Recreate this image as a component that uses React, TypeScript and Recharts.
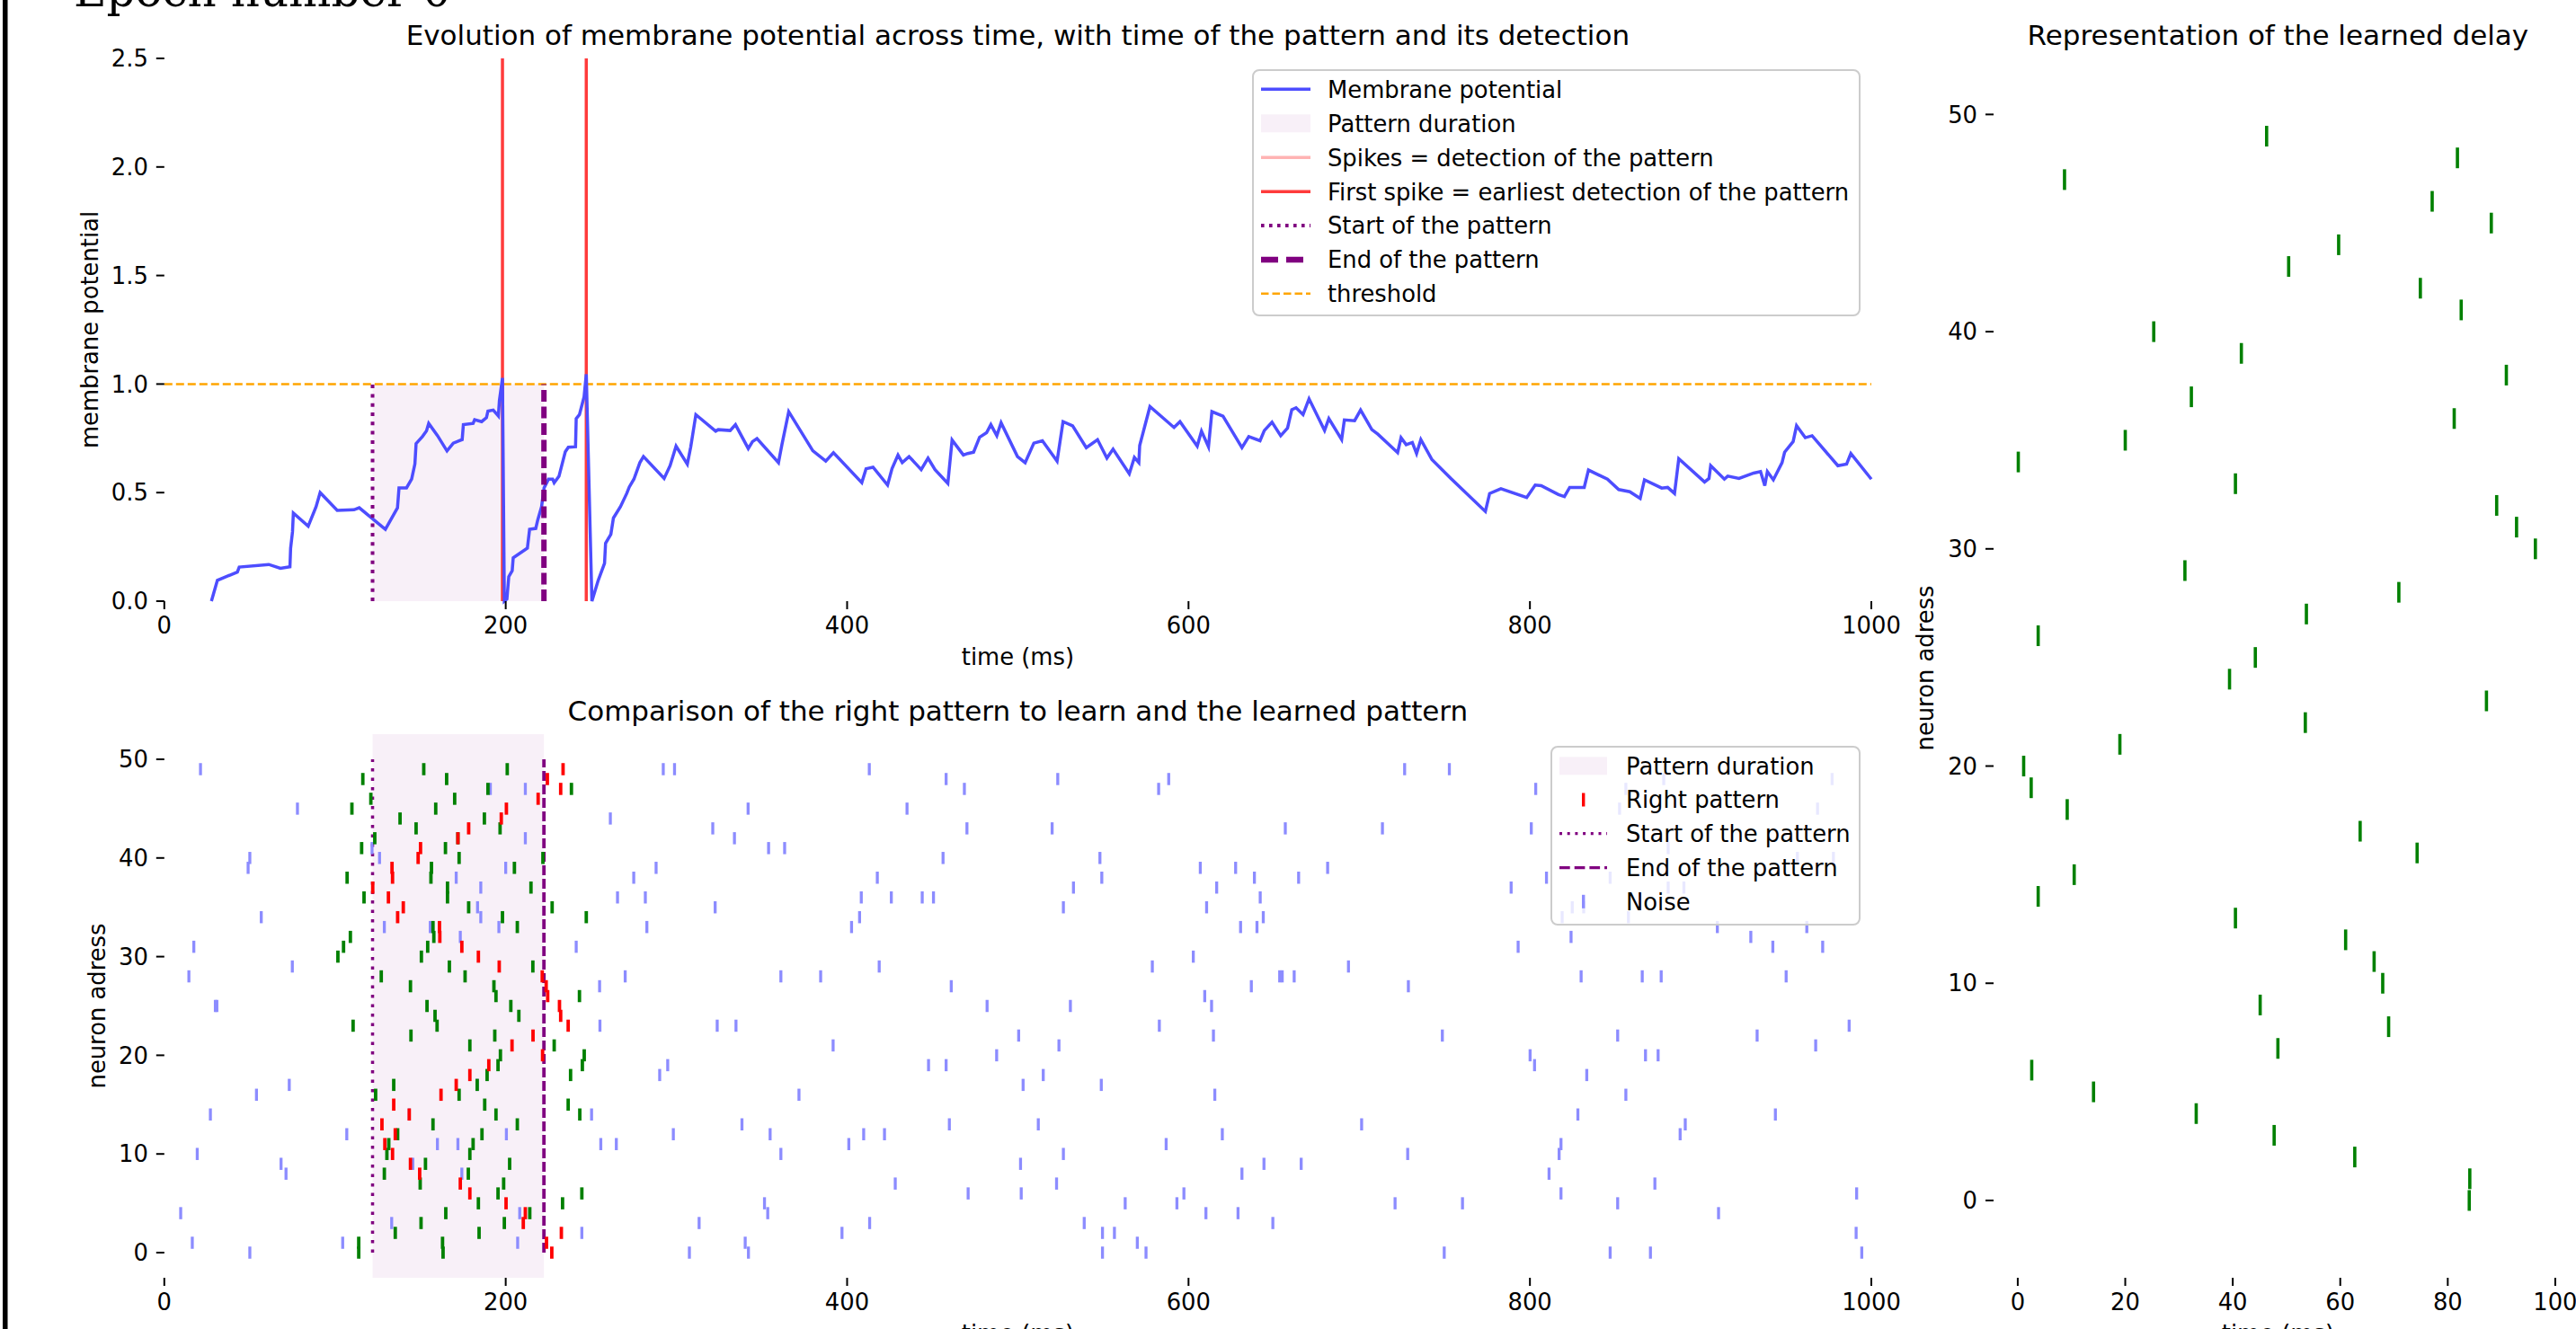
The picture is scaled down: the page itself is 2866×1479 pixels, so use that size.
import React from "react";
import {
  ComposedChart,
  Line,
  XAxis,
  YAxis,
  ReferenceLine,
  ReferenceArea,
  ScatterChart,
  Scatter,
} from "recharts";

const FONT = "'DejaVu Sans', sans-serif";
const PURPLE = "#800080";
const NOISE = "#8c8cff";

// membrane potential (top panel)
const membraneTime = [
  27.6, 31.1, 42.8, 43.9, 61.2, 68.0, 73.6, 74.0, 75.1, 75.6, 84.3, 88.9, 91.3, 101.3, 111.1, 114.2,
  129.5, 136.6, 137.5, 141.9, 144.9, 146.8, 147.5, 151.2, 153.6, 154.9, 160.0, 165.6, 169.3, 174.5,
  175.2, 180.9, 181.8, 185.9, 188.7, 189.6, 192.7, 195.7, 196.3, 198.1, 199.2, 200.7, 201.8, 203.8,
  204.4, 212.7, 214.0, 217.6, 218.8, 221.0, 222.5, 225.1, 227.5, 228.4, 231.2, 234.9, 236.7, 240.9,
  241.3, 243.2, 245.9, 247.2, 250.5, 254.2, 257.9, 258.5, 261.6, 263.1, 267.2, 270.9, 272.4, 275.1,
  278.6, 280.7, 292.8, 296.3, 299.8, 306.4, 308.4, 311.4, 323.0, 324.5, 331.5, 334.6, 342.1, 344.6,
  347.2, 359.8, 361.8, 365.8, 379.9, 387.5, 392.0, 408.6, 411.1, 415.2, 423.7, 426.3, 429.8, 432.3,
  436.3, 443.4, 447.4, 451.5, 459.0, 461.5, 468.1, 470.6, 474.1, 477.6, 481.7, 484.2, 487.7, 490.2,
  499.8, 504.3, 509.4, 514.4, 523.0, 526.5, 532.1, 540.1, 546.7, 552.2, 555.8, 565.3, 568.3, 570.9,
  571.4, 577.4, 591.5, 595.0, 605.1, 607.6, 611.7, 613.7, 620.2, 631.3, 635.3, 641.9, 644.4, 648.9,
  654.0, 658.0, 660.5, 663.0, 667.1, 670.6, 679.7, 682.2, 689.7, 691.3, 697.3, 700.8, 707.4, 710.9,
  722.5, 724.5, 727.5, 731.1, 733.6, 736.1, 742.6, 753.7, 773.9, 776.4, 783.0, 798.1, 803.1, 806.6,
  816.7, 820.2, 823.3, 831.8, 834.3, 845.4, 852.0, 858.5, 864.6, 867.1, 877.2, 880.7, 884.7, 887.2,
  902.3, 904.9, 905.9, 913.9, 915.9, 922.5, 931.1, 935.1, 937.6, 939.1, 942.6, 947.7, 949.2, 954.2,
  956.2, 961.3, 965.3, 980.4, 985.5, 988.0, 1000,
];
const membraneValue = [
  0, 0.096, 0.134, 0.157, 0.169, 0.151, 0.158, 0.244, 0.319, 0.406, 0.345, 0.435, 0.5, 0.418, 0.421, 0.43,
  0.331, 0.43, 0.522, 0.522, 0.562, 0.632, 0.726, 0.758, 0.784, 0.819, 0.763, 0.692, 0.728, 0.744,
  0.813, 0.819, 0.836, 0.827, 0.845, 0.875, 0.88, 0.853, 0.923, 1.028, 0, 0.01, 0.113, 0.14,
  0.2, 0.244, 0.331, 0.335, 0.375, 0.435, 0.522, 0.562, 0.562, 0.545, 0.575, 0.688, 0.709, 0.711,
  0.841, 0.859, 0.941, 1.045, 0, 0.096, 0.174, 0.267, 0.308, 0.383, 0.435, 0.496, 0.526, 0.562,
  0.638, 0.666, 0.565, 0.624, 0.714, 0.631, 0.711, 0.859, 0.783, 0.79, 0.786, 0.813, 0.703, 0.735,
  0.749, 0.638, 0.721, 0.873, 0.693, 0.645, 0.684, 0.546, 0.61, 0.617, 0.535, 0.61, 0.673, 0.638,
  0.666, 0.606, 0.659, 0.606, 0.542, 0.742, 0.673, 0.68, 0.686, 0.755, 0.776, 0.813, 0.762, 0.822,
  0.666, 0.638, 0.728, 0.739, 0.645, 0.827, 0.808, 0.707, 0.744, 0.659, 0.7, 0.587, 0.662, 0.638,
  0.717, 0.896, 0.8, 0.827, 0.714, 0.783, 0.711, 0.873, 0.852, 0.707, 0.758, 0.739, 0.786, 0.824,
  0.762, 0.797, 0.882, 0.891, 0.859, 0.932, 0.786, 0.841, 0.744, 0.835, 0.831, 0.88, 0.79, 0.769,
  0.684, 0.753, 0.721, 0.731, 0.68, 0.744, 0.652, 0.565, 0.413, 0.496, 0.518, 0.477, 0.535, 0.532,
  0.491, 0.482, 0.524, 0.524, 0.604, 0.562, 0.514, 0.504, 0.473, 0.559, 0.521, 0.524, 0.496, 0.656,
  0.549, 0.565, 0.624, 0.562, 0.576, 0.565, 0.59, 0.597, 0.532, 0.597, 0.559, 0.638, 0.686, 0.735,
  0.808, 0.753, 0.762, 0.624, 0.631, 0.68, 0.562,
];
const spikeTimes = [198.1, 247.2];
const patternStart = 122;
const patternEnd = 222.4;
const threshold = 1;

// right pattern (red), one spike per neuron 0..49
const rightPattern = [
  227.0, 223.9, 232.6, 210.3, 211.5, 200.2, 179.0, 173.4, 149.6, 144.2,
  133.7, 129.2, 135.3, 127.5, 143.5, 134.4, 162.1, 171.0, 179.0, 190.1,
  221.6, 203.7, 216.0, 236.6, 232.2, 231.5, 224.6, 223.7, 221.4, 196.2,
  184.0, 174.3, 161.4, 161.2, 136.7, 140.0, 131.3, 122.1, 133.7, 133.4,
  148.7, 150.1, 172.0, 178.3, 197.4, 200.4, 219.0, 232.2, 224.4, 233.6,
];
// learned pattern (green), seen for the two output spikes
const learnedFirst = [
  113.9, 113.9, 135.3, 150.4, 164.9, 184.0, 195.5, 149.9, 128.9, 153.0,
  130.4, 131.5, 136.7, 157.4, 194.3, 187.7, 123.8, 134.4, 189.1, 195.5,
  196.9, 179.0, 144.5, 110.6, 158.6, 153.9, 194.3, 144.2, 127.1, 167.0,
  101.7, 105.0, 109.0, 157.4, 198.1, 178.3, 117.0, 165.9, 107.1, 156.5,
  172.7, 115.6, 123.3, 147.5, 138.1, 109.9, 121.0, 189.6, 116.3, 152.0,
];
const learnedSecond = [
  163.3, 163.0, 184.4, 199.2, 214.1, 233.3, 244.6, 198.8, 178.1, 202.3,
  179.0, 180.9, 186.1, 206.8, 243.4, 236.6, 172.7, 183.3, 238.0, 244.9,
  246.0, 228.4, 193.6, 159.8, 207.7, 203.0, 243.2, 193.1, 176.2, 215.9,
  150.6, 154.3, 157.9, 206.8, 247.2, 227.2, 165.9, 214.8, 156.2, 205.1,
  221.8, 164.7, 172.0, 196.7, 187.5, 159.0, 170.1, 238.5, 165.4, 200.9,
];
// noise spikes, listed by neuron 0..49
const noiseByNeuron: number[][] = [
  [50.1, 307.6, 342.2, 549.6, 575.1, 749.8, 847.0, 870.6, 994.4],
  [16.4, 104.5, 207.0, 340.3, 570.0],
  [244.6, 397.0, 549.6, 556.6, 991.1],
  [133.2, 313.3, 413.2, 538.9, 649.4],
  [9.6, 208.2, 353.5, 610.2, 629.0, 910.5],
  [351.6, 562.9, 593.2, 721.0, 760.5, 851.4],
  [470.9, 502.0, 597.3, 818.2, 991.4],
  [428.2, 522.7, 873.2],
  [71.3, 174.3, 631.3, 811.2],
  [68.4, 145.6, 501.6, 644.2, 666.0],
  [19.3, 361.2, 526.7, 728.4, 817.1],
  [160.0, 172.0, 255.7, 264.8, 401.0, 586.9, 818.2],
  [106.9, 200.4, 298.2, 354.9, 409.7, 421.9, 619.8, 888.0],
  [338.4, 459.9, 512.0, 701.4, 891.0],
  [27.0, 143.5, 250.3, 828.1, 943.8],
  [],
  [54.0, 371.8, 615.4, 856.2],
  [73.2, 183.3, 503.1, 548.9],
  [290.2, 514.9, 833.3],
  [294.9, 447.7, 458.0, 802.7],
  [487.6, 800.1, 867.7, 875.1],
  [391.8, 524.1, 967.4],
  [500.5, 614.6, 748.7, 851.4, 933.1],
  [255.2, 323.9, 334.9, 582.9, 987.0],
  [],
  [29.9, 30.8, 482.0, 530.8, 613.5],
  [609.5],
  [255.0, 461.0, 636.8, 728.8],
  [14.4, 270.0, 361.2, 384.5, 653.4, 654.9, 661.9, 830.0, 865.8, 876.9, 950.1],
  [75.0, 418.8, 578.8, 693.7],
  [602.8],
  [17.3, 241.3, 793.1, 942.3, 971.5],
  [173.4, 824.1, 929.4],
  [128.9, 155.8, 196.0, 282.7, 402.6, 630.5, 640.1, 909.8, 962.2],
  [56.8, 185.4, 407.3, 643.8, 818.9, 857.7],
  [183.5, 322.7, 526.7, 610.6, 824.8, 831.5],
  [265.5, 281.8, 408.3, 425.9, 444.0, 450.6, 642.0],
  [185.4, 532.6, 616.5, 789.0, 881.0, 890.2],
  [171.0, 275.0, 417.7, 549.2, 638.6, 664.5, 809.7, 847.0],
  [49.1, 200.0, 288.1, 606.9, 627.6, 681.5],
  [50.1, 126.1, 456.2, 548.1, 956.7, 977.8],
  [121.7, 354.0, 363.4, 881.0],
  [211.5, 334.0],
  [321.3, 470.2, 520.1, 656.7, 713.6, 800.8],
  [261.3],
  [78.0, 342.0, 435.1, 852.5, 968.5],
  [],
  [191.0, 211.5, 468.7, 582.5, 803.4, 856.2],
  [458.0, 523.4, 588.4, 878.4, 977.0],
  [21.2, 292.3, 298.9, 413.0, 726.6, 752.8],
];
// learned delay per neuron 0..49 (right panel)
const learnedDelay = [
  84.0, 84.1, 62.7, 47.7, 33.2, 14.1, 2.6, 48.4, 69.0, 45.1,
  67.9, 66.3, 61.0, 40.5, 3.8, 10.5, 74.3, 63.7, 9.2, 2.5,
  1.1, 19.0, 53.5, 87.2, 39.4, 44.2, 3.8, 53.7, 70.9, 31.1,
  96.3, 92.8, 89.1, 40.5, 0.1, 20.0, 81.2, 32.3, 90.9, 41.6,
  25.3, 82.5, 74.9, 50.4, 59.7, 88.1, 77.1, 8.7, 81.8, 46.3,
];

const timeTicks = [0, 200, 400, 600, 800, 1000];
const potentialTicks = [0, 0.5, 1, 1.5, 2, 2.5];
const neuronTicks = [0, 10, 20, 30, 40, 50];
const delayTicks = [0, 20, 40, 60, 80, 100];

const membraneData = membraneTime.map((t, i) => ({ t, v: membraneValue[i] }));
const rightData = rightPattern.map((t, n) => ({ t, n }));
const learnedData = [
  ...learnedFirst.map((t, n) => ({ t, n })),
  ...learnedSecond.map((t, n) => ({ t, n })),
];
const noiseData = noiseByNeuron.flatMap((row, n) => row.map((t) => ({ t, n })));
const delayData = learnedDelay.map((t, n) => ({ t, n }));

const tickStyle = { fontSize: 25.8, fill: "#000", fontFamily: FONT };
const tickLineStyle = { stroke: "#000", strokeWidth: 2 };

const eventMark = (color: string, w: number, h: number) => (props: any) => {
  const { cx, cy } = props;
  if (cx == null || cy == null) return <g />;
  return <rect x={cx - w / 2} y={cy - h / 2} width={w} height={h} fill={color} />;
};

function LegendLine({ y, x0, x1, color, width, dash }: any) {
  return <line x1={x0} x2={x1} y1={y} y2={y} stroke={color} strokeWidth={width} strokeDasharray={dash} />;
}

function Overlay() {
  const tl = { x0: 1403, x1: 1458, tx: 1477 };
  const topRows = [99.3, 137.3, 175.3, 213.3, 251, 289, 326.7];
  const topLabels = [
    "Membrane potential",
    "Pattern duration",
    "Spikes = detection of the pattern",
    "First spike = earliest detection of the pattern",
    "Start of the pattern",
    "End of the pattern",
    "threshold",
  ];
  const bl = { x0: 1735, x1: 1788, tx: 1809 };
  const botRows = [852.3, 890, 927.7, 965.7, 1003.3];
  const botLabels = ["Pattern duration", "Right pattern", "Start of the pattern", "End of the pattern", "Noise"];
  return (
    <svg
      width={2866}
      height={1479}
      style={{ position: "absolute", left: 0, top: 0, pointerEvents: "none" }}
      fontFamily={FONT}
    >
      <rect x={3} y={0} width={5.5} height={1479} fill="#000" />
      <text x={82} y={6.5} fontFamily="'DejaVu Serif', serif" fontSize={50}>
        Epoch number 0
      </text>
      <text x={1132.4} y={49.5} fontSize={31} textAnchor="middle">
        Evolution of membrane potential across time, with time of the pattern and its detection
      </text>
      <text x={1132.4} y={801.5} fontSize={31} textAnchor="middle">
        Comparison of the right pattern to learn and the learned pattern
      </text>
      <text x={2534.4} y={49.5} fontSize={31} textAnchor="middle">
        Representation of the learned delay
      </text>
      <text x={1132.4} y={740} fontSize={25.8} textAnchor="middle">time (ms)</text>
      <text x={1132.4} y={1493} fontSize={25.8} textAnchor="middle">time (ms)</text>
      <text x={2534.4} y={1493} fontSize={25.8} textAnchor="middle">time (ms)</text>
      <text x={0} y={0} fontSize={25.8} textAnchor="middle" transform="translate(109,367) rotate(-90)">
        membrane potential
      </text>
      <text x={0} y={0} fontSize={25.8} textAnchor="middle" transform="translate(117,1119.5) rotate(-90)">
        neuron adress
      </text>
      <text x={0} y={0} fontSize={25.8} textAnchor="middle" transform="translate(2151,743.5) rotate(-90)">
        neuron adress
      </text>

      {/* top legend */}
      <rect x={1394} y={78} width={675} height={273} rx={7} fill="#fff" fillOpacity={0.8} stroke="#cccccc" strokeWidth={2} />
      <LegendLine y={topRows[0]} x0={tl.x0} x1={tl.x1} color="#4d4dff" width={3.5} />
      <rect x={tl.x0} y={topRows[1] - 10} width={tl.x1 - tl.x0} height={20} fill={PURPLE} fillOpacity={0.06} />
      <LegendLine y={topRows[2]} x0={tl.x0} x1={tl.x1} color="#ffb3b3" width={3.5} />
      <LegendLine y={topRows[3]} x0={tl.x0} x1={tl.x1} color="#ff3b3b" width={3.5} />
      <LegendLine y={topRows[4]} x0={tl.x0} x1={tl.x1} color={PURPLE} width={4} dash="3.6 5.4" />
      <LegendLine y={topRows[5]} x0={tl.x0} x1={tl.x1} color={PURPLE} width={6.3} dash="19 9" />
      <LegendLine y={topRows[6]} x0={tl.x0} x1={tl.x1} color="#ffa500" width={2.5} dash="8.5 4" />
      {topLabels.map((s, i) => (
        <text key={s} x={tl.tx} y={topRows[i] + 9.3} fontSize={25.8}>
          {s}
        </text>
      ))}

      {/* bottom legend */}
      <rect x={1726} y={831} width={343} height={198} rx={7} fill="#fff" fillOpacity={0.8} stroke="#cccccc" strokeWidth={2} />
      <rect x={bl.x0} y={botRows[0] - 10} width={bl.x1 - bl.x0} height={20} fill={PURPLE} fillOpacity={0.06} />
      <rect x={1760} y={botRows[1] - 7.5} width={3.4} height={15} fill="#ff0000" />
      <LegendLine y={botRows[2]} x0={bl.x0} x1={bl.x1} color={PURPLE} width={3.3} dash="3 5.7" />
      <LegendLine y={botRows[3]} x0={bl.x0} x1={bl.x1} color={PURPLE} width={3.3} dash="11.7 5" />
      <rect x={1760} y={botRows[4] - 7.5} width={3.4} height={15} fill={NOISE} />
      {botLabels.map((s, i) => (
        <text key={s} x={bl.tx} y={botRows[i] + 9.3} fontSize={25.8}>
          {s}
        </text>
      ))}
    </svg>
  );
}

export default function App() {
  return (
    <div
      style={{
        position: "fixed",
        left: 0,
        top: 0,
        width: 2866,
        height: 1479,
        overflow: "hidden",
        background: "#fff",
        fontFamily: FONT,
      }}
    >
      {/* membrane potential */}
      <div style={{ position: "absolute", left: 0, top: 0 }}>
        <ComposedChart width={2150} height={760} data={membraneData} margin={{ top: 65, right: 68, bottom: 0, left: 0 }}>
          <XAxis
            dataKey="t"
            type="number"
            domain={[0, 1000]}
            ticks={timeTicks}
            height={91}
            axisLine={false}
            tickLine={tickLineStyle}
            tickSize={9}
            tickMargin={9}
            tick={tickStyle}
            interval={0}
          />
          <YAxis
            type="number"
            domain={[0, 2.5]}
            ticks={potentialTicks}
            width={182.8}
            axisLine={false}
            tickLine={tickLineStyle}
            tickSize={9}
            tickMargin={9}
            tick={tickStyle}
            tickFormatter={(v: number) => v.toFixed(1)}
            interval={0}
          />
          <ReferenceArea x1={patternStart} x2={patternEnd} y1={0} y2={threshold} fill={PURPLE} fillOpacity={0.06} stroke="none" />
          <ReferenceLine y={threshold} stroke="#ffa500" strokeWidth={2.5} strokeDasharray="9 4" />
          {spikeTimes.map((s) => (
            <ReferenceLine key={s} x={s} stroke="#ff3b3b" strokeWidth={3.5} />
          ))}
          <Line
            dataKey="v"
            type="linear"
            stroke="#4d4dff"
            strokeWidth={3.5}
            dot={false}
            isAnimationActive={false}
          />
          <ReferenceLine
            segment={[{ x: patternStart, y: 0 }, { x: patternStart, y: threshold }]}
            stroke={PURPLE}
            strokeWidth={4}
            strokeDasharray="4 6.3"
          />
          <ReferenceLine
            segment={[{ x: patternEnd, y: 0 }, { x: patternEnd, y: threshold }]}
            stroke={PURPLE}
            strokeWidth={6}
            strokeDasharray="13 5.5"
          />
        </ComposedChart>
      </div>

      {/* raster comparison */}
      <div style={{ position: "absolute", left: 0, top: 780 }}>
        <ScatterChart width={2150} height={699} margin={{ top: 37, right: 68, bottom: 0, left: 0 }}>
          <XAxis
            dataKey="t"
            type="number"
            domain={[0, 1000]}
            ticks={timeTicks}
            height={57}
            axisLine={false}
            tickLine={tickLineStyle}
            tickSize={9}
            tickMargin={9}
            tick={tickStyle}
            interval={0}
          />
          <YAxis
            dataKey="n"
            type="number"
            domain={[-2.55, 52.55]}
            ticks={neuronTicks}
            width={182.8}
            axisLine={false}
            tickLine={tickLineStyle}
            tickSize={9}
            tickMargin={9}
            tick={tickStyle}
            interval={0}
          />
          <ReferenceArea x1={patternStart} x2={patternEnd} fill={PURPLE} fillOpacity={0.06} stroke="none" />
          <Scatter data={noiseData} shape={eventMark(NOISE, 3.3, 13.5)} isAnimationActive={false} />
          <Scatter data={learnedData} shape={eventMark("#008000", 3.8, 13.5)} isAnimationActive={false} />
          <Scatter data={rightData} shape={eventMark("#ff0000", 3.8, 13.5)} isAnimationActive={false} />
          <ReferenceLine
            segment={[{ x: patternStart, y: 0 }, { x: patternStart, y: 50 }]}
            stroke={PURPLE}
            strokeWidth={3.5}
            strokeDasharray="3.5 7"
          />
          <ReferenceLine
            segment={[{ x: patternEnd, y: 0 }, { x: patternEnd, y: 50 }]}
            stroke={PURPLE}
            strokeWidth={3.8}
            strokeDasharray="11 4"
          />
        </ScatterChart>
      </div>

      {/* learned delays */}
      <div style={{ position: "absolute", left: 2150, top: 0 }}>
        <ScatterChart width={716} height={1479} margin={{ top: 65, right: 15.3, bottom: 0, left: 0 }}>
          <XAxis
            dataKey="t"
            type="number"
            domain={[-4.5, 101.3]}
            ticks={delayTicks}
            height={57}
            axisLine={false}
            tickLine={tickLineStyle}
            tickSize={9}
            tickMargin={9}
            tick={tickStyle}
            interval={0}
          />
          <YAxis
            dataKey="n"
            type="number"
            domain={[-3.56, 52.58]}
            ticks={neuronTicks}
            width={68}
            axisLine={false}
            tickLine={tickLineStyle}
            tickSize={9}
            tickMargin={9}
            tick={tickStyle}
            interval={0}
          />
          <Scatter data={delayData} shape={eventMark("#008000", 3.6, 23)} isAnimationActive={false} />
        </ScatterChart>
      </div>

      <Overlay />
    </div>
  );
}
